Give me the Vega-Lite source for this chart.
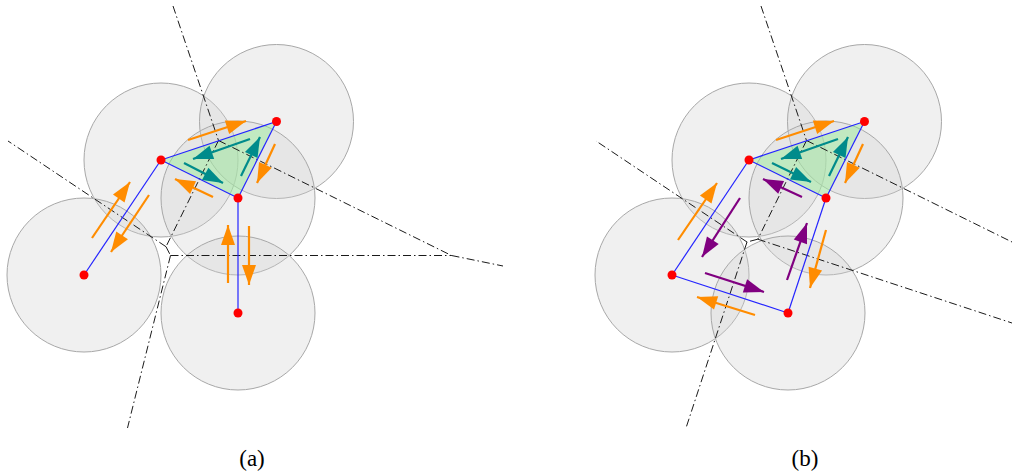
{
  "$schema": "https://vega.github.io/schema/vega-lite/v6.json",
  "width": 1013,
  "height": 476,
  "autosize": {"type": "fit", "contains": "padding"},
  "padding": 0,
  "background": "white",
  "config": {"view": {"stroke": null}},
  "datasets": {
    "circles": [
      {"panel": "a", "x": 161, "y": 160},
      {"panel": "a", "x": 276.5, "y": 121.5},
      {"panel": "a", "x": 238, "y": 198},
      {"panel": "a", "x": 84, "y": 275},
      {"panel": "a", "x": 238, "y": 313},
      {"panel": "b", "x": 749, "y": 160},
      {"panel": "b", "x": 864.5, "y": 121.5},
      {"panel": "b", "x": 826, "y": 198},
      {"panel": "b", "x": 672, "y": 275},
      {"panel": "b", "x": 788, "y": 313}
    ],
    "tri": [
      {"poly": "a", "i": 1, "x": 161, "y": 160},
      {"poly": "a", "i": 2, "x": 276.5, "y": 121.5},
      {"poly": "a", "i": 3, "x": 238, "y": 198},
      {"poly": "b", "i": 1, "x": 749, "y": 160},
      {"poly": "b", "i": 2, "x": 864.5, "y": 121.5},
      {"poly": "b", "i": 3, "x": 826, "y": 198}
    ],
    "voronoi": [
      {"x": 173, "y": 6, "x2": 218.5, "y2": 140.5},
      {"x": 218.5, "y": 140.5, "x2": 451.5, "y2": 255.5},
      {"x": 451.5, "y": 255.5, "x2": 503, "y2": 266},
      {"x": 218.5, "y": 140.5, "x2": 166, "y2": 246.7},
      {"x": 166, "y": 246.7, "x2": 170.5, "y2": 255.5},
      {"x": 170.5, "y": 255.5, "x2": 451.5, "y2": 255.5},
      {"x": 170.5, "y": 255.5, "x2": 127.5, "y2": 428},
      {"x": 166, "y": 246.7, "x2": 8, "y2": 141},
      {"x": 761, "y": 6, "x2": 806.5, "y2": 140.5},
      {"x": 806.5, "y": 140.5, "x2": 1012, "y2": 242},
      {"x": 806.5, "y": 140.5, "x2": 757.8, "y2": 239.2},
      {"x": 757.8, "y": 239.2, "x2": 747, "y2": 242},
      {"x": 757.8, "y": 239.2, "x2": 1012, "y2": 323},
      {"x": 747, "y": 242, "x2": 596, "y2": 141},
      {"x": 747, "y": 242, "x2": 686, "y2": 428}
    ],
    "edges": [
      {"x": 161, "y": 160, "x2": 276.5, "y2": 121.5},
      {"x": 276.5, "y": 121.5, "x2": 238, "y2": 198},
      {"x": 238, "y": 198, "x2": 161, "y2": 160},
      {"x": 161, "y": 160, "x2": 84, "y2": 275},
      {"x": 238, "y": 198, "x2": 238, "y2": 313},
      {"x": 749, "y": 160, "x2": 864.5, "y2": 121.5},
      {"x": 864.5, "y": 121.5, "x2": 826, "y2": 198},
      {"x": 826, "y": 198, "x2": 749, "y2": 160},
      {"x": 749, "y": 160, "x2": 672, "y2": 275},
      {"x": 672, "y": 275, "x2": 788, "y2": 313},
      {"x": 788, "y": 313, "x2": 826, "y2": 198}
    ],
    "arrows": [
      {"kind": "orange", "x": 188, "y": 140, "x2": 246, "y2": 121},
      {"kind": "orange", "x": 213, "y": 197, "x2": 175, "y2": 179},
      {"kind": "orange", "x": 92, "y": 238, "x2": 130, "y2": 182},
      {"kind": "orange", "x": 149, "y": 195, "x2": 111, "y2": 252},
      {"kind": "orange", "x": 228, "y": 283, "x2": 228, "y2": 225},
      {"kind": "orange", "x": 249, "y": 226, "x2": 249, "y2": 285},
      {"kind": "orange", "x": 275, "y": 144, "x2": 257, "y2": 183},
      {"kind": "teal", "x": 250, "y": 139, "x2": 193, "y2": 159},
      {"kind": "teal", "x": 184, "y": 163, "x2": 223, "y2": 183},
      {"kind": "teal", "x": 241, "y": 176, "x2": 260, "y2": 137},
      {"kind": "orange", "x": 776, "y": 140, "x2": 834, "y2": 121},
      {"kind": "orange", "x": 678, "y": 240, "x2": 717, "y2": 183},
      {"kind": "orange", "x": 755, "y": 315, "x2": 697, "y2": 297},
      {"kind": "orange", "x": 826, "y": 230, "x2": 810, "y2": 288},
      {"kind": "orange", "x": 863, "y": 144, "x2": 845, "y2": 183},
      {"kind": "purple", "x": 802, "y": 197, "x2": 763, "y2": 179},
      {"kind": "purple", "x": 740, "y": 198, "x2": 702, "y2": 257},
      {"kind": "purple", "x": 705, "y": 273, "x2": 764, "y2": 292},
      {"kind": "purple", "x": 787, "y": 280, "x2": 807, "y2": 223},
      {"kind": "teal", "x": 838, "y": 139, "x2": 781, "y2": 159},
      {"kind": "teal", "x": 772, "y": 163, "x2": 811, "y2": 182},
      {"kind": "teal", "x": 829, "y": 176, "x2": 848, "y2": 137}
    ],
    "labels": [
      {"x": 252, "y": 459, "t": "(a)"},
      {"x": 805, "y": 459, "t": "(b)"}
    ]
  },
  "encoding": {
    "x": {"field": "x", "type": "quantitative", "scale": {"domain": [0, 1013], "nice": false, "zero": false}, "axis": null},
    "y": {"field": "y", "type": "quantitative", "scale": {"domain": [0, 476], "reverse": true, "nice": false, "zero": false}, "axis": null}
  },
  "layer": [
    {
      "data": {"name": "circles"},
      "mark": {"type": "point", "shape": "circle", "filled": true, "size": 23716, "fill": "#d0d0d0", "fillOpacity": 0.33, "stroke": "#a8a8a8", "strokeWidth": 1, "strokeOpacity": 1}
    },
    {
      "data": {"name": "tri"},
      "mark": {"type": "line", "fill": "#90ee90", "fillOpacity": 0.42, "stroke": "#90ee90", "strokeOpacity": 0, "strokeWidth": 0},
      "encoding": {
        "detail": {"field": "poly"},
        "order": {"field": "i", "type": "quantitative"}
      }
    },
    {
      "data": {"name": "voronoi"},
      "mark": {"type": "rule", "stroke": "#1a1a1a", "strokeWidth": 1, "strokeDash": [8, 3, 1.5, 3]},
      "encoding": {
        "x2": {"field": "x2"},
        "y2": {"field": "y2"}
      }
    },
    {
      "data": {"name": "edges"},
      "mark": {"type": "rule", "stroke": "#2424ff", "strokeWidth": 1.2},
      "encoding": {
        "x2": {"field": "x2"},
        "y2": {"field": "y2"}
      }
    },
    {
      "data": {"name": "arrows"},
      "mark": {"type": "rule", "strokeWidth": 2.2},
      "encoding": {
        "x2": {"field": "x2"},
        "y2": {"field": "y2"},
        "color": {"field": "kind", "type": "nominal", "scale": {"domain": ["orange", "teal", "purple"], "range": ["#ff8c00", "#008b8b", "#800080"]}, "legend": null}
      }
    },
    {
      "data": {"name": "arrows"},
      "transform": [
        {"calculate": "(atan2(datum.x2 - datum.x, datum.y - datum.y2) * 180 / PI + 360) % 360", "as": "angle"}
      ],
      "mark": {"type": "point", "filled": true, "opacity": 1, "size": 400, "shape": "M0,0L0.7,2L-0.7,2Z", "strokeWidth": 0},
      "encoding": {
        "x": {"field": "x2", "type": "quantitative"},
        "y": {"field": "y2", "type": "quantitative"},
        "angle": {"field": "angle", "type": "quantitative", "scale": null},
        "color": {"field": "kind", "type": "nominal", "scale": {"domain": ["orange", "teal", "purple"], "range": ["#ff8c00", "#008b8b", "#800080"]}, "legend": null}
      }
    },
    {
      "data": {"name": "circles"},
      "mark": {"type": "point", "shape": "circle", "filled": true, "size": 81, "fill": "#ff0000", "opacity": 1, "strokeWidth": 0}
    },
    {
      "data": {"name": "labels"},
      "mark": {"type": "text", "font": "Liberation Serif", "fontSize": 23, "color": "#000000", "align": "center", "baseline": "middle"},
      "encoding": {
        "text": {"field": "t"}
      }
    }
  ]
}
